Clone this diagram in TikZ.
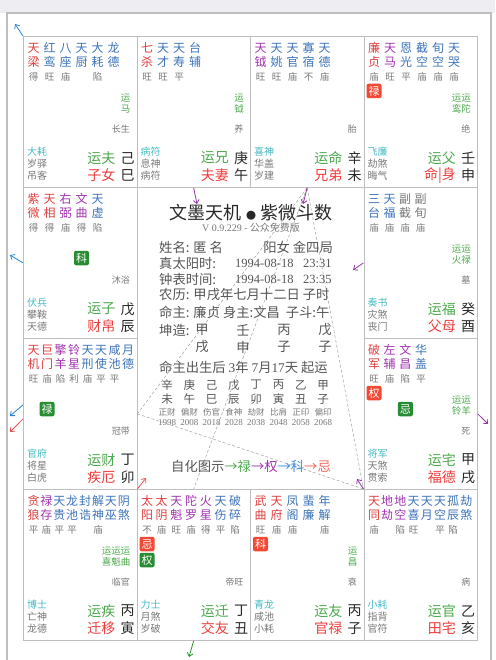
\documentclass[tikz,border=0pt]{standalone}
\usepackage{fontspec}
\usepackage{tikz}
\usetikzlibrary{arrows.meta}
\setmainfont{Noto Sans CJK SC}
\newfontfamily\zwnum{Liberation Serif}
\definecolor{zwred}{RGB}{222,62,62}
\definecolor{zwpurple}{RGB}{160,50,175}
\definecolor{zwblue}{RGB}{60,115,185}
\definecolor{zwgreen}{RGB}{76,168,76}
\definecolor{zwcyan}{RGB}{70,185,195}
\definecolor{zwgray}{RGB}{120,120,120}
\definecolor{zwpred}{RGB}{238,60,60}
\definecolor{zwink}{RGB}{40,40,40}
\definecolor{zwdark}{RGB}{85,85,85}
\definecolor{zwbred}{RGB}{242,72,52}
\definecolor{zwbgreen}{RGB}{40,140,50}
\definecolor{zwgrid}{RGB}{190,190,190}
\definecolor{zwband}{RGB}{238,238,242}
\definecolor{zwablue}{RGB}{40,130,220}
\definecolor{zwared}{RGB}{235,80,80}
\definecolor{zwapurple}{RGB}{150,50,170}
\definecolor{zwagreen}{RGB}{40,150,50}
\definecolor{zwsky}{RGB}{60,140,220}
\definecolor{zwsalmon}{RGB}{240,100,90}
\newcommand{\zwfs}[1]{\fontsize{#1}{#1}\selectfont}
\tikzset{
  zwcell/.style={draw=zwgrid, line width=.8pt, anchor=north west, inner sep=0pt, minimum width=113.5pt, minimum height=151pt},
  zwstar/.style={inner sep=0pt, font=\zwfs{12}},
  zwbright/.style={inner sep=0pt, text=zwgray, font=\zwfs{9.5}},
  zwbadge/.style={inner sep=0pt, rounded corners=2pt, minimum width=15pt, minimum height=14.5pt, text=white, font=\zwfs{11}},
  zwyun/.style={inner sep=0pt, anchor=east, align=right, text=zwgreen, font=\fontsize{9.5}{11}\selectfont},
  zwstage/.style={inner sep=0pt, anchor=east, text=zwgray, font=\zwfs{9}},
  zwgod/.style={inner sep=0pt, anchor=west, text=zwcyan, font=\zwfs{10}},
  zwsub/.style={inner sep=0pt, anchor=west, text=zwgray, font=\zwfs{10}},
  zwpal/.style={inner sep=0pt, anchor=east, font=\zwfs{14}},
  zwbranch/.style={inner sep=0pt, text=zwink, font=\zwfs{14}},
  zwtxt/.style={inner sep=0pt, anchor=west, text=zwdark, font=\zwfs{13.3}},
  zwdigit/.style={inner sep=0pt, anchor=west, text=zwdark, font={\zwnum\zwfs{12.5}}},
  zwdec/.style={inner sep=0pt, text=zwdark, font=\zwfs{11.5}},
  zwsmall/.style={inner sep=0pt, text=zwgray, font=\zwfs{8.5}},
  zwyear/.style={inner sep=0pt, text=zwgray, font={\zwnum\zwfs{9}}},
  zwarr/.style={-{Straight Barb[length=3.5pt,width=6pt]}, line width=.8pt},
  zwdash/.style={draw=zwgray!70, line width=.5pt, dash pattern=on 3pt off 2pt}
}
% star columns of one palace: prefix, pitch, colour/top/bottom/brightness
\newcommand{\zwstars}[3]{%
  \foreach \sc/\sa/\sb/\sm [count=\idx from 0] in {#3}{
    \node[zwstar, text=\sc] (#1-\idx t) at (10.5+\idx*#2,12) {\sa};
    \node[zwstar, text=\sc] (#1-\idx b) at (10.5+\idx*#2,26) {\sb};
    \node[zwbright] (#1-\idx m) at (10.5+\idx*#2,41) {\sm};
  }}
% lower part of one palace
\newcommand{\zwfoot}[8]{%
  \node[zwgod] (#1-god) at (4,116) {#2};
  \node[zwsub] (#1-sa) at (4,128) {#3};
  \node[zwsub] (#1-sb) at (4,140) {#4};
  \node[zwpal, text=zwgreen] (#1-yun) at (92.5,122) {#5};
  \node[zwbranch] (#1-stem) at (104.5,122) {#6};
  \node[zwpal, text=zwpred] (#1-pal) at (92.5,139.5) {#7};
  \node[zwbranch] (#1-br) at (104.5,139.5) {#8};
}

\begin{document}
\begin{tikzpicture}[x=1pt, y=-1pt]
  \useasboundingbox (0,0) rectangle (495,660);
  \fill[zwband] (0,0) rectangle (495,13);
  \draw[zwgrid, line width=1.2pt] (7,660) -- (7,13) -- (491,13) -- (491,660);

  % palaces
  \node[zwcell] (si) at (23,36) {};
  \node[zwcell] (wu) at (136.5,36) {};
  \node[zwcell] (wei) at (250,36) {};
  \node[zwcell] (shen) at (363.5,36) {};
  \node[zwcell] (chen) at (23,187) {};
  \node[zwcell] (you) at (363.5,187) {};
  \node[zwcell] (mao) at (23,338) {};
  \node[zwcell] (xu) at (363.5,338) {};
  \node[zwcell] (yin) at (23,489) {};
  \node[zwcell] (chou) at (136.5,489) {};
  \node[zwcell] (zi) at (250,489) {};
  \node[zwcell] (hai) at (363.5,489) {};
  \node[zwcell, minimum width=227pt, minimum height=302pt] (mid) at (136.5,187) {};

  % three-sides lines
  \draw[zwdash] (wei.south) -- (mao.east);
  \draw[zwdash] (wei.south) -- (chou.north);
  \draw[zwdash] (wei.south) -- (hai.north west);
  \draw[zwdash] (mao.east) -- (hai.north west);

  \begin{scope}[shift={(23,36)}]
    \zwstars{si}{16}{zwred/天/梁/得, zwblue/红/鸾/旺, zwblue/八/座/庙, zwblue/天/厨/{}, zwblue/大/耗/陷, zwblue/龙/德/{}}
    \node[zwyun] (si-ys) at (107.5,68) {运\\马};
    \node[zwstage] (si-st) at (107,93) {长生};
    \zwfoot{si}{大耗}{岁驿}{吊客}{运夫}{己}{子女}{巳}
  \end{scope}
  \begin{scope}[shift={(136.5,36)}]
    \zwstars{wu}{16}{zwred/七/杀/旺, zwblue/天/才/旺, zwblue/天/寿/平, zwblue/台/辅/{}}
    \node[zwyun] (wu-ys) at (107.5,68) {运\\钺};
    \node[zwstage] (wu-st) at (107,93) {养};
    \zwfoot{wu}{病符}{息神}{病符}{运兄}{庚}{夫妻}{午}
  \end{scope}
  \begin{scope}[shift={(250,36)}]
    \zwstars{wei}{16}{zwpurple/天/钺/旺, zwblue/天/姚/旺, zwblue/天/官/庙, zwblue/寡/宿/不, zwblue/天/德/庙}
    \node[zwstage] (wei-st) at (107,93) {胎};
    \zwfoot{wei}{喜神}{华盖}{岁建}{运命}{辛}{兄弟}{未}
  \end{scope}
  \begin{scope}[shift={(363.5,36)}]
    \zwstars{shen}{16}{zwred/廉/贞/庙, zwpurple/天/马/旺, zwblue/恩/光/平, zwblue/截/空/庙, zwblue/旬/空/庙, zwblue/天/哭/庙}
    \node[zwbadge, fill=zwbred] (shen-lu) at (10.5,55) {禄};
    \node[zwyun] (shen-ys) at (107.5,68) {运运\\鸾陀};
    \node[zwstage] (shen-st) at (107,93) {绝};
    \zwfoot{shen}{飞廉}{劫煞}{晦气}{运父}{壬}{命|身}{申}
  \end{scope}
  \begin{scope}[shift={(23,187)}]
    \zwstars{chen}{16}{zwred/紫/微/得, zwred/天/相/得, zwpurple/右/弼/庙, zwpurple/文/曲/得, zwblue/天/虚/陷}
    \node[zwbadge, fill=zwbgreen] (chen-ke) at (10.5+3*16,71) {科};
    \node[zwstage] (chen-st) at (107,93) {沐浴};
    \zwfoot{chen}{伏兵}{攀鞍}{天德}{运子}{戊}{财帛}{辰}
  \end{scope}
  \begin{scope}[shift={(363.5,187)}]
    \zwstars{you}{15.5}{zwblue/三/台/庙, zwblue/天/福/庙, zwgray/副/截/庙, zwgray/副/旬/庙}
    \node[zwyun] (you-ys) at (107.5,68) {运运\\火禄};
    \node[zwstage] (you-st) at (107,93) {墓};
    \zwfoot{you}{奏书}{灾煞}{丧门}{运福}{癸}{父母}{酉}
  \end{scope}
  \begin{scope}[shift={(23,338)}]
    \zwstars{mao}{13.5}{zwred/天/机/旺, zwred/巨/门/庙, zwpurple/擎/羊/陷, zwpurple/铃/星/利, zwblue/天/刑/庙, zwblue/天/使/平, zwblue/咸/池/平, zwblue/月/德/{}}
    \node[zwbadge, fill=zwbgreen] (mao-lu) at (10.5+13.5,71) {禄};
    \node[zwstage] (mao-st) at (107,93) {冠带};
    \zwfoot{mao}{官府}{将星}{白虎}{运财}{丁}{疾厄}{卯}
  \end{scope}
  \begin{scope}[shift={(363.5,338)}]
    \zwstars{xu}{15.7}{zwred/破/军/旺, zwpurple/左/辅/庙, zwpurple/文/昌/陷, zwblue/华/盖/平}
    \node[zwbadge, fill=zwbred] (xu-quan) at (10.5,55) {权};
    \node[zwbadge, fill=zwbgreen] (xu-ji) at (10.5+2*15.7,71) {忌};
    \node[zwyun] (xu-ys) at (107.5,68) {运运\\铃羊};
    \node[zwstage] (xu-st) at (107,93) {死};
    \zwfoot{xu}{将军}{天煞}{贯索}{运宅}{甲}{福德}{戌}
  \end{scope}
  \begin{scope}[shift={(23,489)}]
    \zwstars{yin}{12.9}{zwred/贪/狼/平, zwpurple/禄/存/庙, zwblue/天/贵/平, zwblue/龙/池/平, zwblue/封/诰/{}, zwblue/解/神/庙, zwblue/天/巫/{}, zwblue/阴/煞/{}}
    \node[zwyun] (yin-ys) at (107.5,68) {运运运\\喜魁曲};
    \node[zwstage] (yin-st) at (107,93) {临官};
    \zwfoot{yin}{博士}{亡神}{龙德}{运疾}{丙}{迁移}{寅}
  \end{scope}
  \begin{scope}[shift={(136.5,489)}]
    \zwstars{chou}{14.7}{zwred/太/阳/不, zwred/太/阴/庙, zwpurple/天/魁/旺, zwpurple/陀/罗/庙, zwpurple/火/星/得, zwblue/天/伤/平, zwblue/破/碎/陷}
    \node[zwbadge, fill=zwbred] (chou-ji) at (10.5,55) {忌};
    \node[zwbadge, fill=zwbgreen] (chou-quan) at (10.5,71) {权};
    \node[zwstage] (chou-st) at (107,93) {帝旺};
    \zwfoot{chou}{力士}{月煞}{岁破}{运迁}{丁}{交友}{丑}
  \end{scope}
  \begin{scope}[shift={(250,489)}]
    \zwstars{zi}{16}{zwred/武/曲/旺, zwred/天/府/庙, zwblue/凤/阁/庙, zwblue/蜚/廉/{}, zwblue/年/解/庙}
    \node[zwbadge, fill=zwbred] (zi-ke) at (10.5,55) {科};
    \node[zwyun] (zi-ys) at (107.5,68) {运\\昌};
    \node[zwstage] (zi-st) at (107,93) {衰};
    \zwfoot{zi}{青龙}{咸池}{小耗}{运友}{丙}{官禄}{子}
  \end{scope}
  \begin{scope}[shift={(363.5,489)}]
    \zwstars{hai}{13.2}{zwred/天/同/庙, zwpurple/地/劫/{}, zwpurple/地/空/陷, zwblue/天/喜/旺, zwblue/天/月/{}, zwblue/天/空/平, zwblue/孤/辰/陷, zwblue/劫/煞/{}}
    \node[zwstage] (hai-st) at (107,93) {病};
    \zwfoot{hai}{小耗}{指背}{官符}{运官}{乙}{田宅}{亥}
  \end{scope}

  % centre panel
  \node[inner sep=0pt, text=zwink, font=\zwfs{18}] (title) at (251,213) {文墨天机 {\zwfs{10}●} 紫微斗数};
  \node[inner sep=0pt, text=zwgray, font=\zwfs{10}] (ver) at (251,228) {{\zwnum V 0.9.229 -} 公众免费版};
  \node[zwtxt] (name) at (159,247) {姓名: 匿 名};
  \node[zwtxt, anchor=east] (ju) at (333,247) {阳女 金四局};
  \node[zwtxt] (solar) at (159,263) {真太阳时:};
  \node[zwdigit] (solar-d) at (235,263) {1994-08-18};
  \node[zwdigit] (solar-t) at (303,263) {23:31};
  \node[zwtxt] (clock) at (159,279) {钟表时间:};
  \node[zwdigit] (clock-d) at (235,279) {1994-08-18};
  \node[zwdigit] (clock-t) at (303,279) {23:35};
  \node[zwtxt] (lunar) at (159,295) {农历: 甲戌年七月十二日 子时};
  \node[zwtxt] (lord) at (159,312) {命主: 廉贞 身主:文昌 \ 子斗:午};
  \node[zwtxt] (kun) at (159,330) {坤造:};
  \foreach \gs/\gb [count=\idx from 0] in {甲/戌, 壬/申, 丙/子, 戊/子}{
    \node[zwtxt, anchor=center] (pil\idx a) at (202+41*\idx,330) {\gs};
    \node[zwtxt, anchor=center] (pil\idx b) at (202+41*\idx,347) {\gb};
  }
  \node[zwtxt] (qiyun) at (159,367) {命主出生后 {\zwnum 3}年 {\zwnum 7}月{\zwnum 17}天 起运};
  \foreach \ds/\db/\dg/\dy [count=\idx from 0] in {辛/未/正财/1998, 庚/午/偏财/2008, 己/巳/伤官/2018, 戊/辰/食神/2028, 丁/卯/劫财/2038, 丙/寅/比肩/2048, 乙/丑/正印/2058, 甲/子/偏印/2068}{
    \node[zwdec] (dec\idx a) at (167+22.3*\idx,385) {\ds};
    \node[zwdec] (dec\idx b) at (167+22.3*\idx,399) {\db};
    \node[zwsmall] (dec\idx g) at (167+22.3*\idx,412) {\dg};
    \node[zwyear] (dec\idx y) at (167+22.3*\idx,423) {\dy};
  }
  \node[zwtxt, anchor=center] (legend) at (251,466) {自化图示\textcolor{zwgreen}{→禄}\textcolor{zwpurple}{→权}\textcolor{zwsky}{→科}\textcolor{zwsalmon}{→忌}};

  % self-transformation arrows
  \coordinate (a-si) at (15,24);
  \coordinate (a-chen) at (10,255);
  \coordinate (a-mao1) at (10,416);
  \coordinate (a-mao2) at (10,432);
  \coordinate (a-xu) at (488,424);
  \coordinate (a-chou) at (189,657);
  \coordinate (a-wu) at (197,204);
  \coordinate (a-wei) at (303,204);
  \coordinate (a-you) at (353,270);
  \coordinate (a-hai) at (357,479);
  \coordinate (a-yin) at (146,478);
  \draw[zwarr, zwablue] (si.north west) -- (a-si);
  \draw[zwarr, zwablue] (chen.west) -- (a-chen);
  \draw[zwarr, zwablue] ([yshift=9pt]mao.west) -- (a-mao1);
  \draw[zwarr, zwared] ([yshift=-5pt]mao.west) -- (a-mao2);
  \draw[zwarr, zwapurple] (xu.east) -- (a-xu);
  \draw[zwarr, zwagreen] (chou.south) -- (a-chou);
  \draw[zwarr, zwapurple] (wu.south) -- (a-wu);
  \draw[zwarr, zwapurple] (wei.south) -- (a-wei);
  \draw[zwarr, zwapurple] (you.west) -- (a-you);
  \draw[zwarr, zwapurple] (hai.north west) -- (a-hai);
  \draw[zwarr, zwared] (yin.north east) -- (a-yin);
\end{tikzpicture}
\end{document}
